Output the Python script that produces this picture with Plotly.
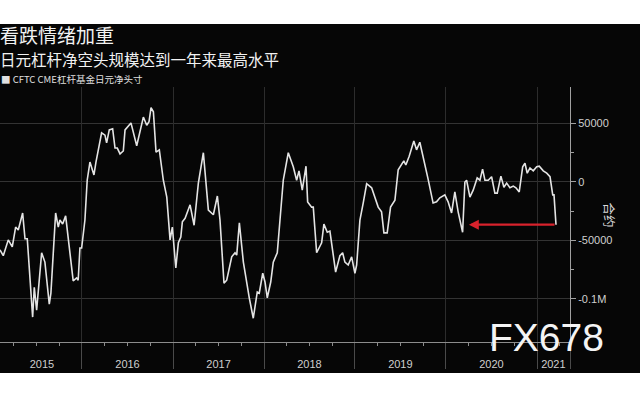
import math
from datetime import datetime
import plotly.graph_objects as go

# ---- data (decimal year, net position in contracts) ----
T = [2015.099, 2015.135, 2015.190, 2015.234, 2015.271, 2015.300, 2015.348, 2015.374, 2015.399, 2015.429,
     2015.458, 2015.476, 2015.502, 2015.557, 2015.593, 2015.641, 2015.659, 2015.711, 2015.740, 2015.758,
     2015.788, 2015.821, 2015.849, 2015.904, 2015.942, 2015.959, 2015.978, 2015.997, 2016.033, 2016.058,
     2016.088, 2016.132, 2016.154, 2016.216, 2016.253, 2016.271, 2016.300, 2016.337, 2016.363, 2016.388,
     2016.418, 2016.454, 2016.473, 2016.538, 2016.601, 2016.674, 2016.711, 2016.736, 2016.758, 2016.784,
     2016.813, 2016.849, 2016.893, 2016.931, 2016.967, 2016.992, 2017.030, 2017.058, 2017.085, 2017.102,
     2017.132, 2017.187, 2017.231, 2017.278, 2017.333, 2017.388, 2017.443, 2017.487, 2017.516, 2017.560,
     2017.590, 2017.645, 2017.681, 2017.700, 2017.729, 2017.773, 2017.838, 2017.882, 2017.926, 2017.948,
     2017.986, 2018.011, 2018.036, 2018.074, 2018.102, 2018.146, 2018.212, 2018.267, 2018.322, 2018.359,
     2018.385, 2018.421, 2018.462, 2018.480, 2018.524, 2018.542, 2018.579, 2018.634, 2018.659, 2018.696,
     2018.725, 2018.788, 2018.835, 2018.865, 2018.890, 2018.926, 2018.964, 2019.000, 2019.019, 2019.055,
     2019.091, 2019.129, 2019.184, 2019.220, 2019.256, 2019.293, 2019.319, 2019.355, 2019.392, 2019.440,
     2019.476, 2019.538, 2019.560, 2019.597, 2019.648, 2019.678, 2019.714, 2019.805, 2019.860, 2019.898,
     2019.934, 2019.989, 2020.025, 2020.063, 2020.099, 2020.135, 2020.184, 2020.209, 2020.228, 2020.264,
     2020.300, 2020.344, 2020.374, 2020.403, 2020.429, 2020.465, 2020.502, 2020.538, 2020.564, 2020.604,
     2020.637, 2020.667, 2020.703, 2020.740, 2020.769, 2020.805, 2020.843, 2020.868, 2020.893, 2020.923,
     2020.959, 2020.997, 2021.025, 2021.069, 2021.107, 2021.143, 2021.173, 2021.187, 2021.209]

V = [-58000, -63000, -49500, -55500, -38500, -41000, -26500, -48500, -48500, -84000,
     -115500, -90000, -109500, -60500, -68500, -104500, -95000, -26500, -38500, -32500,
     -36000, -29000, -47000, -84500, -82000, -84000, -56500, -56500, -32500, 1500,
     17000, 6000, 17000, 42000, 40000, 33500, 44500, 45500, 29000, 29000,
     24000, 26500, 44500, 50500, 31000, 55500, 48500, 51500, 63500, 60000,
     25500, 27500, 1500, -13000, -49500, -38500, -73500, -52000, -47000, -34000,
     -31000, -19500, -37000, -1000, 25000, -24000, -28000, -12000, -32500, -86500,
     -84000, -64000, -60500, -62500, -35000, -68500, -99000, -116500, -94000, -95000,
     -78000, -85500, -99000, -85500, -68500, -60500, 1500, 25000, 13000, 1500,
     9500, -7000, 13500, -17000, -21500, -21500, -60500, -52000, -36000, -43000,
     -42000, -77000, -63000, -60500, -68500, -71000, -64000, -78000, -71000, -32500,
     -18000, -1500, -5000, -13000, -21500, -25500, -43500, -43500, -21500, -15500,
     10500, 18000, 14500, 22000, 35000, 27500, 34000, 2500, -18000, -17000,
     -13500, -11000, -17000, -26500, -8500, -25500, -43000, 0, 1500, -13000,
     -7000, 3500, 1500, 11000, 1500, 1500, 4500, -9500, -9500, 5000,
     -4500, -1000, -5000, -3500, -5000, -8500, 13000, 16000, 7500, 12000,
     9500, 13000, 13500, 9500, 7500, 4500, -11000, -11000, -36500]

YEAR_LABELS = ["2015", "2016", "2017", "2018", "2019", "2020", "2021"]
YEAR_LABEL_POS = [2015.56, 2016.5, 2017.5, 2018.5, 2019.5, 2020.5, 2021.18]
YEAR_BOUNDS = [2016, 2017, 2018, 2019, 2020, 2021]
Y_TICKS = [50000, 0, -50000, -100000]
Y_TICKTEXT = ["50000", "0", "-50000", "-0.1M"]
Y_MINOR = [25000, -25000, -75000]
X_RANGE = [2015.099, 2021.363]
Y_RANGE = [-136800, 81200]
ARROW_HEAD_T = 2020.253

TITLE1 = "看跌情绪加重"
TITLE2 = "日元杠杆净空头规模达到一年来最高水平"
LEGEND = "■ CFTC CME杠杆基金日元净头寸"
Y_TITLE = "合约"
WATERMARK = "FX678"


def d(t):
    y = int(math.floor(t))
    s = datetime(y, 1, 1)
    e = datetime(y + 1, 1, 1)
    return (s + (e - s) * (t - y)).strftime("%Y-%m-%d %H:%M:%S")


dates = [d(t) for t in T]
xr = [d(X_RANGE[0]), d(X_RANGE[1])]
quarters = [d(y + q / 4) for y in range(2015, 2022) for q in range(4)
            if X_RANGE[0] < y + q / 4 < X_RANGE[1]]

W, H = 640, 400
L, R, TOP, B = 0, 70, 87, 58
PW, PH = W - L - R, H - TOP - B


def px(x):
    return (x - L) / PW


def py(y):
    return (H - B - y) / PH


fig = go.Figure()
fig.add_trace(go.Scatter(x=dates, y=V, mode="lines",
                         line=dict(color="#e4e4e4", width=1.6),
                         showlegend=False, hoverinfo="skip"))
fig.add_trace(go.Scatter(x=xr, y=[0, 0], mode="lines", line=dict(width=0),
                         xaxis="x2", showlegend=False, hoverinfo="skip", opacity=0))

CJK = "Noto Sans CJK SC"
LAT = "Liberation Sans, Arial, sans-serif"

fig.update_layout(
    width=W, height=H, autosize=False,
    margin=dict(l=L, r=R, t=TOP, b=B, pad=0),
    paper_bgcolor="white", plot_bgcolor="rgba(0,0,0,0)",
    showlegend=False,
    xaxis=dict(type="date", range=xr, tickmode="array",
               tickvals=[d(t) for t in YEAR_LABEL_POS], ticktext=YEAR_LABELS,
               ticks="outside", ticklen=12, tickcolor="rgba(0,0,0,0)",
               showgrid=False, zeroline=False,
               showline=True, linecolor="#8c8c8c", linewidth=1,
               tickfont=dict(family=LAT, size=11, color="#cfcfcf")),
    xaxis2=dict(type="date", range=xr, overlaying="x", anchor="y", side="bottom",
                tickmode="array", tickvals=[d(t) for t in YEAR_BOUNDS] + [xr[1]],
                ticks="outside", ticklen=26, tickcolor="#4a4a4a", tickwidth=1,
                showticklabels=False, showgrid=True, gridcolor="#2c2c2c", gridwidth=1,
                zeroline=False, showline=False,
                minor=dict(tickvals=quarters, ticks="outside", ticklen=3,
                           tickcolor="#8c8c8c", showgrid=False)),
    yaxis=dict(range=Y_RANGE, side="right", anchor="x", tickmode="array",
               tickvals=Y_TICKS, ticktext=Y_TICKTEXT, ticks="outside", ticklen=5,
               tickcolor="#a0a0a0", showgrid=True, gridcolor="#333333", gridwidth=1,
               zeroline=False, showline=True, linecolor="#a0a0a0", linewidth=1,
               tickfont=dict(family=LAT, size=11, color="#cfcfcf"),
               minor=dict(tickvals=Y_MINOR, ticks="outside", ticklen=3,
                          tickcolor="#a0a0a0", showgrid=False)),
)

# black chart panel
fig.add_shape(type="rect", xref="paper", yref="paper", layer="below",
              x0=px(0), x1=px(640), y0=py(373), y1=py(24),
              fillcolor="#060606", line=dict(width=0))

# red arrow pointing back to the March-2020 low level
fig.add_annotation(x=d(ARROW_HEAD_T), y=V[-1], ax=dates[-1], ay=V[-1],
                   xref="x", yref="y", axref="x", ayref="y", text="",
                   showarrow=True, arrowhead=2, arrowsize=0.9, arrowwidth=2.2,
                   arrowcolor="#d8222c", standoff=0, startstandoff=0)

ann = [
    dict(text=TITLE1, x=px(-2), y=py(34.5), font=dict(family=CJK, size=19, color="#f2f2f2"), xanchor="left"),
    dict(text=TITLE2, x=px(-2), y=py(59.5), font=dict(family=CJK, size=15.5, color="#f2f2f2"), xanchor="left"),
    dict(text=LEGEND, x=px(-1), y=py(79), font=dict(family=CJK, size=9.5, color="#e0e0e0"), xanchor="left"),
    dict(text=WATERMARK, x=px(546), y=py(337), font=dict(family=LAT, size=39, color="#f4f4f4"), xanchor="center"),
]
for a in ann:
    fig.add_annotation(xref="paper", yref="paper", showarrow=False, yanchor="middle", **a)

fig.add_annotation(text=Y_TITLE, xref="paper", yref="paper", x=px(621), y=py(215),
                   textangle=90, showarrow=False, font=dict(family=CJK, size=12.5, color="#d8d8d8"))

fig.write_html("out.html", config={"displayModeBar": False},
               post_script="document.body.style.margin='0';document.body.style.overflow='hidden';")
